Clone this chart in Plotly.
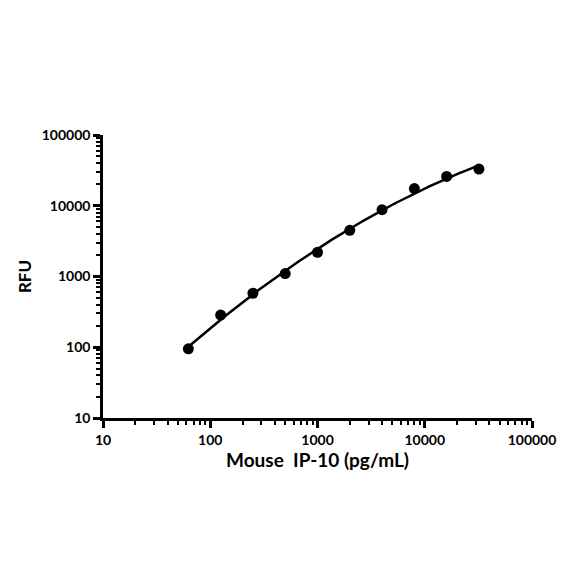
import numpy as np
import plotly.graph_objects as go

conc = [62.5, 125, 250, 500, 1000, 2000, 4000, 8000, 16000, 32000]
rfu = [95, 285, 580, 1100, 2200, 4500, 8800, 17500, 26000, 33000]
tick_vals = [10, 100, 1000, 10000, 100000]
tick_text = ['10', '100', '1000', '10000', '100000']

# smooth fitted curve (quadratic in log-log space)
lx, ly = np.log10(conc), np.log10(rfu)
coef = np.polyfit(lx, ly, 2)
fx = np.linspace(lx.min(), lx.max(), 200)
fy = np.polyval(coef, fx)

minor_vals = [m * 10 ** d for d in range(1, 5) for m in range(2, 10)]

fig = go.Figure()
fig.add_trace(go.Scatter(x=10 ** fx, y=10 ** fy, mode='lines',
                         line=dict(color='black', width=2.5), hoverinfo='skip'))
fig.add_trace(go.Scatter(x=conc, y=rfu, mode='markers',
                         marker=dict(color='black', size=11)))

axis_common = dict(
    type='log', range=[1, 5], tickvals=tick_vals, ticktext=tick_text,
    showgrid=False, zeroline=False, showline=True,
    linecolor='black', linewidth=2.5, ticks='outside', ticklen=7,
    tickwidth=2.5, tickcolor='black', automargin=False,
    tickfont=dict(family='Lato', size=14, color='black', weight='bold'),
    minor=dict(tickvals=minor_vals, ticks='outside', ticklen=4,
               tickwidth=2, tickcolor='black'),
)
fig.update_xaxes(title=dict(text='<b>Mouse  IP-10 (pg/mL)</b>',
                            font=dict(family='Lato', size=19, color='black'),
                            standoff=8),
                 **axis_common)
fig.update_yaxes(title=dict(text='<b>RFU</b>',
                            font=dict(family='Lato', size=17, color='black'),
                            standoff=6),
                 **axis_common)
fig.update_layout(
    width=584, height=584, showlegend=False,
    plot_bgcolor='white', paper_bgcolor='white',
    margin=dict(l=95, r=60, t=127, b=174),
    font=dict(family='Lato', color='black'),
)
fig.write_html("out.html")
